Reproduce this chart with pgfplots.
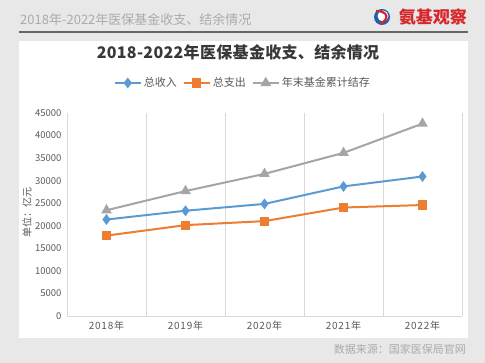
\documentclass[border=0pt]{standalone}
\usepackage{fontspec}
\setmainfont{Noto Sans CJK SC}
\usepackage{pgfplots}
\pgfplotsset{compat=1.18}
\definecolor{sblue}{HTML}{5B9BD5}
\definecolor{sorange}{HTML}{ED7D31}
\definecolor{sgray}{HTML}{A5A5A5}
\definecolor{bgc}{HTML}{E8E8E8}
\definecolor{tickc}{HTML}{595959}
\definecolor{gridc}{HTML}{D9D9D9}
\definecolor{logored}{HTML}{D7262B}
\definecolor{logoblue}{HTML}{1F5FAF}

\begin{document}
\begin{tikzpicture}[x=1pt,y=1pt]
\useasboundingbox (0,0) rectangle (485,363);
\fill[bgc] (0,0) rectangle (485,363);
\fill[white] (19,25) rectangle (468,322);
% header
\node[anchor=west, text=black!33, font=\fontsize{13}{13}\selectfont, inner sep=0pt] at (20,343) {2018年-2022年医保基金收支、结余情况};
\draw[line width=2pt, color=black!60] (19,331) -- (468,331);
% logo
\fill[logoblue] (382,346) circle (8);
\fill[white] (383,347) circle (5.5);
\draw[logored, line width=2.2pt] (376,352) .. controls (388,352) and (390,344) .. (380,339);
\node[anchor=east, font=\fontsize{17}{17}\selectfont\bfseries, text=logored, inner sep=0pt] at (467,346) {氨基观察};
% title
\node[font=\fontsize{16}{16}\selectfont\bfseries\addfontfeature{LetterSpace=2}, text=black!78] at (238,311) {2018-2022年医保基金收支、结余情况};
% y label
\node[rotate=90, font=\fontsize{10}{10}\selectfont, text=tickc] at (27,150) {单位：亿元};
% source
\node[anchor=east, text=black!33, font=\fontsize{11}{11}\selectfont, inner sep=0pt] at (466,14) {数据来源：国家医保局官网};

\begin{axis}[
  at={(67pt,47pt)}, anchor=south west,
  width=395pt, height=203pt, scale only axis,
  xmin=-0.5, xmax=4.5, ymin=0, ymax=45000,
  axis lines*=left,
  axis line style={gridc, line width=0.8pt},
  xtick={0,1,2,3,4},
  xticklabels={2018年,2019年,2020年,2021年,2022年},
  minor xtick={0.5,1.5,2.5,3.5,4.5},
  minor x grid style={gridc, line width=0.8pt},
  xminorgrids=true,
  ytick={0,5000,...,45000},
  major tick length=0pt, minor tick length=0pt,
  scaled y ticks=false,
  /pgf/number format/assume math mode=true,
  /pgf/number format/set thousands separator={},
  yticklabel style={font=\fontsize{9.5}{10}\selectfont, text=tickc, xshift=-2pt},
  xticklabel style={font=\fontsize{10}{10}\selectfont\addfontfeature{LetterSpace=8}, text=tickc, yshift=-2pt},
  clip=false,
  legend columns=3,
  legend style={at={(rel axis cs:0.445,1.148)}, anchor=center, draw=none, fill=none,
    font=\fontsize{11}{11}\selectfont, text=tickc,
    /tikz/every even column/.append style={column sep=4pt}},
  legend image code/.code={\draw[mark repeat=2,mark phase=2] plot coordinates {(0pt,0pt)(13pt,0pt)(26pt,0pt)};},
]
\addplot[sblue, line width=2pt, mark=diamond*, mark size=3.8pt] coordinates {(0,21384) (1,23335) (2,24846) (3,28728) (4,30922)};
\addlegendentry{总收入}
\addplot[sorange, line width=2pt, mark=square*, mark size=3.6pt] coordinates {(0,17822) (1,20143) (2,21032) (3,24043) (4,24597)};
\addlegendentry{总支出}
\addplot[sgray, line width=2pt, mark=triangle*, mark size=4.2pt] coordinates {(0,23440) (1,27697) (2,31500) (3,36156) (4,42640)};
\addlegendentry{年末基金累计结存}
\end{axis}
\end{tikzpicture}
\end{document}
